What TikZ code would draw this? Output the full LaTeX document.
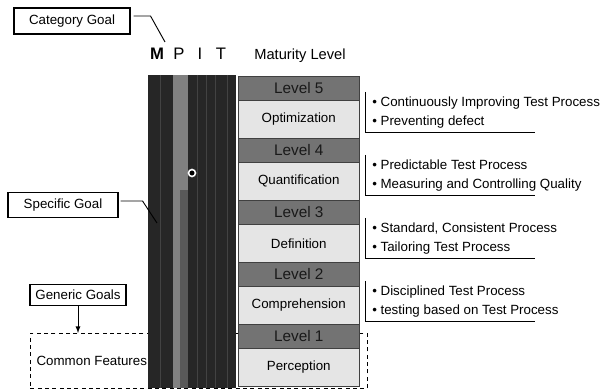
\documentclass[tikz,border=0pt]{standalone}
\usepackage{fontspec}
\setmainfont{Liberation Sans}
\usetikzlibrary{calc,positioning,arrows}

\begin{document}
\begin{tikzpicture}[x=0.75pt,y=-0.75pt,
    font=\fontsize{10}{12}\selectfont,
    goalbox/.style={draw, line width=0.8pt, fill=white, inner sep=0pt},
    levelband/.style={draw=black!75, fill=black!55, text=black!90, inner sep=0pt,
        minimum width=121*0.75pt, minimum height=24*0.75pt, anchor=north west,
        font=\fontsize{11.5}{13}\selectfont},
    levelbox/.style={draw=black!75, fill=black!10, inner sep=0pt,
        minimum width=121*0.75pt, minimum height=38*0.75pt, anchor=north west},
    desc/.style={anchor=north west, align=left, inner xsep=7*0.75pt, inner ysep=0pt,
        minimum height=40*0.75pt, font=\fontsize{10}{14.25}\selectfont}]
    \useasboundingbox (0,0) rectangle (615,392);

    % Common features (behind the columns)
    \node[draw, line width=0.7pt, dash pattern=on 3pt off 2.5pt, inner sep=0pt,
        minimum width=337*0.75pt, minimum height=55*0.75pt,
        anchor=north west] (common) at (30,333) {};
    \node[anchor=west, inner sep=1pt] (commontext) at (35,361) {Common Features};

    % Draw the MPIT column
    \node[fill=black!85, inner sep=0pt, minimum width=88*0.75pt, minimum height=313*0.75pt,
        anchor=north west] (mpitcol) at (148,75) {};
    \fill[black!50] (173,75) rectangle (188,388);
    \fill[black!65] (180,190) rectangle (188,388);
    \foreach \x in {160,197,206,215,227}
        \draw[black!74, line width=0.6pt] (\x,75) -- (\x,388);
    \draw[white, fill=black, line width=1.2pt] (192,173) circle (3.5);

    % Draw the maturity levels
    \foreach \lv/\stage [count=\i from 0] in {5/Optimization,4/Quantification,3/Definition,2/Comprehension,1/Perception} {
        \node[levelband] (band\lv) at (238,{76+62*\i}) {Level \lv};
        \node[levelbox] (stage\lv) at (238,{100+62*\i}) {\stage};
    }

    % Headings
    \node[font=\fontsize{12.5}{14}\selectfont\bfseries] (mpitM) at (157,54) {M};
    \node[font=\fontsize{12.5}{14}\selectfont] (mpitP) at (179,54) {P};
    \node[font=\fontsize{12.5}{14}\selectfont] (mpitI) at (200,54) {I};
    \node[font=\fontsize{12.5}{14}\selectfont] (mpitT) at (221,54) {T};
    \node[font=\fontsize{11}{13}\selectfont] (matlevel) at (300,56) {Maturity Level};

    % Descriptions with brackets
    \coordinate (rim) at (535,0);
    \foreach \lv/\ta/\tb [count=\i from 0] in {5/Continuously Improving Test Process/Preventing defect,
            4/Predictable Test Process/Measuring and Controlling Quality,
            3/{Standard, Consistent Process}/Tailoring Test Process,
            2/Disciplined Test Process/testing based on Test Process} {
        \node[desc] (desc\lv) at (365,{92+63*\i}) {\textbullet{} \ta\\\textbullet{} \tb};
        \draw[line width=0.6pt] (desc\lv.north west) -- (desc\lv.south west) -- (desc\lv.south west -| rim);
    }

    % Goal labels
    \node[goalbox, minimum width=116*0.75pt, minimum height=26*0.75pt] (catgoal) at (72,21) {Category Goal};
    \node[goalbox, minimum width=110*0.75pt, minimum height=25*0.75pt] (specgoal) at (63,205) {Specific Goal};
    \node[goalbox, minimum width=96*0.75pt, minimum height=21*0.75pt] (gengoal) at (78,295) {Generic Goals};

    \coordinate (catend) at (165,42);
    \coordinate (specend) at (157,223);
    \draw[line width=0.7pt] ($(catgoal.east)+(3,-5)$) -- ++(17,0) -- (catend);
    \draw[line width=0.7pt] ($(specgoal.east)+(2,-4)$) -- ++(22,0) -- (specend);
    \draw[line width=0.7pt, -latex] (gengoal.south) -- (gengoal.south |- common.north);
\end{tikzpicture}
\end{document}
